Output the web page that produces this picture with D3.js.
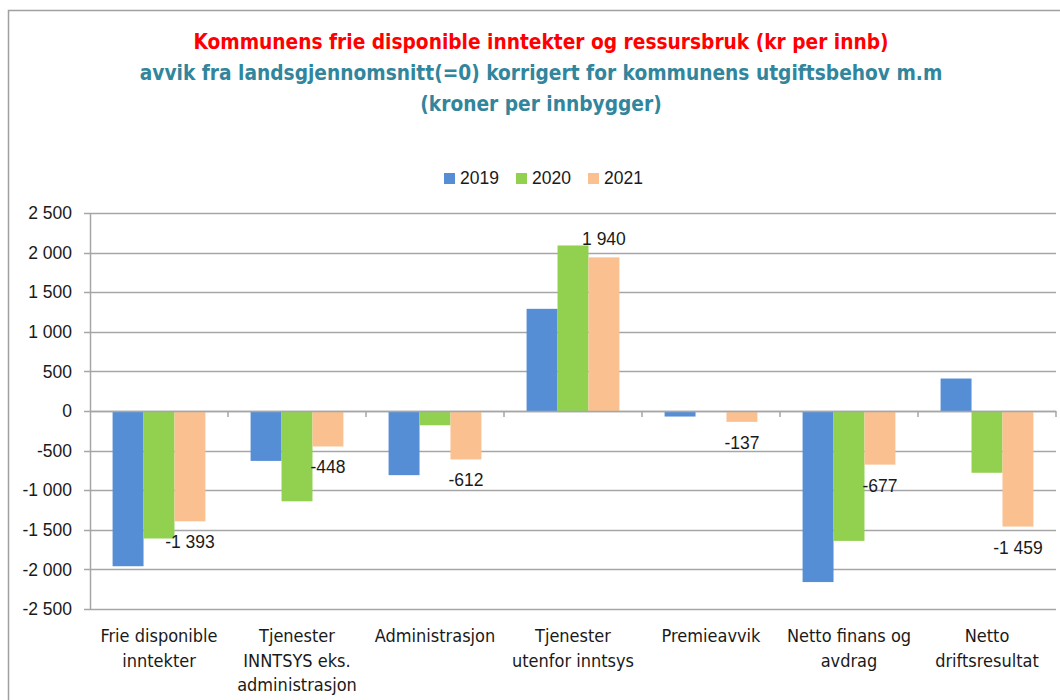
<!DOCTYPE html>
<html>
<head>
<meta charset="utf-8">
<script src="https://cdn.jsdelivr.net/npm/d3@7"></script>
<style>
  body { margin: 0; background: #fff; }
  svg { display: block; }
</style>
</head>
<body>
<svg id="chart"></svg>
<script>
let w = 1060;
let h = 700;

// data
const categories = [
    ["Frie disponible", "inntekter"],
    ["Tjenester", "INNTSYS eks.", "administrasjon"],
    ["Administrasjon"],
    ["Tjenester", "utenfor inntsys"],
    ["Premieavvik"],
    ["Netto finans og", "avdrag"],
    ["Netto", "driftsresultat"]
];
const years = ["2019", "2020", "2021"];
const v2019 = [-1960, -630, -810, 1290, -70, -2160, 410];
const v2020 = [-1610, -1140, -180, 2090, 0, -1640, -780];
const v2021 = [-1393, -448, -612, 1940, -137, -677, -1459];
const yTicks = [-2500, -2000, -1500, -1000, -500, 0, 500, 1000, 1500, 2000, 2500];
const colors = ["#558ed5", "#92d050", "#fac090"];

const series = [v2019, v2020, v2021];
const fmt = (v) => d3.format(",")(v).replace(/,/g, " ").replace("\u2212", "-");

const margin = {left: 90, right: 4, top: 213, bottom: 91};

let svg = d3.select("#chart")
    .attr('width', w)
    .attr('height', h);

// chart frame
svg.append('rect')
    .attr('x', 8.5).attr('y', 10.5)
    .attr('width', w).attr('height', h)
    .style('fill', 'none')
    .style('stroke', '#a0a0a0')
    .style('stroke-width', 1.5);

// titles
const titleFont = '"Liberation Sans Narrow", "DejaVu Sans Condensed", sans-serif';
const titles = [
    {t: "Kommunens frie disponible inntekter og ressursbruk (kr per innb)", c: "#ff0000", y: 49},
    {t: "avvik fra landsgjennomsnitt(=0) korrigert for kommunens utgiftsbehov m.m", c: "#31859c", y: 80},
    {t: "(kroner per innbygger)", c: "#31859c", y: 111}
];
svg.append('g')
    .selectAll('text')
    .data(titles)
    .enter()
    .append('text')
        .attr('x', 541)
        .attr('y', (d) => d.y)
        .attr('text-anchor', 'middle')
        .attr('font-family', titleFont)
        .attr('font-weight', 'bold')
        .attr('font-size', '20.7px')
        .attr('fill', (d) => d.c)
        .text((d) => d.t);

// scales
let xScale = d3.scaleBand()
    .domain(d3.range(categories.length))
    .range([margin.left, w - margin.right])
    .padding(0);

let xInner = d3.scaleBand()
    .domain(d3.range(years.length))
    .range([0, xScale.bandwidth()])
    .paddingInner(0)
    .paddingOuter(0.73);

let yScale = d3.scaleLinear()
    .domain([-2500, 2500])
    .range([h - margin.bottom, margin.top]);

const tickFont = '"Liberation Sans", "DejaVu Sans", sans-serif';

// gridlines
svg.append('g')
    .selectAll('line')
    .data(yTicks)
    .enter()
    .append('line')
        .attr('x1', margin.left - 6)
        .attr('x2', w - margin.right)
        .attr('y1', (d) => Math.round(yScale(d)) + 0.5)
        .attr('y2', (d) => Math.round(yScale(d)) + 0.5)
        .style('stroke', '#a6a6a6')
        .style('stroke-width', 1.5);

// y axis
let yAxis = d3.axisLeft(yScale)
    .tickValues(yTicks)
    .tickSize(0)
    .tickPadding(18)
    .tickFormat(fmt);
let yAxisGroup = svg.append('g')
    .attr('transform', `translate(${margin.left}, 0)`)
    .call(yAxis);
yAxisGroup.select('.domain').style('stroke', '#a6a6a6').style('stroke-width', 1.5);
yAxisGroup.selectAll('text')
    .attr('font-family', tickFont)
    .attr('font-size', '17.5px')
    .attr('fill', '#1a1a1a');

// bars
series.forEach((vals, s) => {
    svg.append('g')
        .selectAll('rect')
        .data(vals)
        .enter()
        .append('rect')
            .attr('x', (d, i) => xScale(i) + xInner(s))
            .attr('width', xInner.bandwidth())
            .attr('y', (d) => yScale(Math.max(0, d)))
            .attr('height', (d) => Math.abs(yScale(d) - yScale(0)))
            .style('fill', colors[s]);
});

// zero axis line with ticks
svg.append('line')
    .attr('x1', margin.left).attr('x2', w - margin.right)
    .attr('y1', Math.round(yScale(0)) + 0.5).attr('y2', Math.round(yScale(0)) + 0.5)
    .style('stroke', '#a6a6a6').style('stroke-width', 1.5);
svg.append('g')
    .selectAll('line')
    .data(d3.range(1, categories.length + 1))
    .enter()
    .append('line')
        .attr('x1', (d) => margin.left + d * xScale.step())
        .attr('x2', (d) => margin.left + d * xScale.step())
        .attr('y1', yScale(0))
        .attr('y2', yScale(0) + 6)
        .style('stroke', '#a6a6a6').style('stroke-width', 1.5);

// data labels for 2021
svg.append('g')
    .selectAll('text')
    .data(v2021)
    .enter()
    .append('text')
        .attr('x', (d, i) => xScale(i) + xInner(2) + xInner.bandwidth() / 2)
        .attr('y', (d) => yScale(d) + (d < 0 ? 27 : -12))
        .attr('text-anchor', 'middle')
        .attr('font-family', tickFont)
        .attr('font-size', '17.5px')
        .attr('fill', '#1a1a1a')
        .text((d) => fmt(d));

// category labels
const catFont = '"Liberation Sans Narrow", "DejaVu Sans Condensed", sans-serif';
let catGroup = svg.append('g')
    .selectAll('text')
    .data(categories)
    .enter()
    .append('text')
        .attr('x', (d, i) => xScale(i) + xScale.bandwidth() / 2)
        .attr('y', 642)
        .attr('text-anchor', 'middle')
        .attr('font-family', catFont)
        .attr('font-size', '18px')
        .attr('fill', '#1a1a1a');
catGroup.selectAll('tspan')
    .data((d) => d)
    .enter()
    .append('tspan')
        .attr('x', function() { return d3.select(this.parentNode).attr('x'); })
        .attr('dy', (d, i) => i === 0 ? 0 : 24.5)
        .text((d) => d);

// legend
const legendX = [444, 516, 588];
let legend = svg.append('g')
    .selectAll('g')
    .data(years)
    .enter()
    .append('g')
        .attr('transform', (d, i) => `translate(${legendX[i]}, 178)`);
legend.append('rect')
    .attr('x', 0).attr('y', -5)
    .attr('width', 11).attr('height', 11)
    .style('fill', (d, i) => colors[i]);
legend.append('text')
    .attr('x', 16)
    .attr('y', 6)
    .attr('font-family', tickFont)
    .attr('font-size', '17.5px')
    .attr('fill', '#1a1a1a')
    .text((d) => d);
</script>
</body>
</html>
